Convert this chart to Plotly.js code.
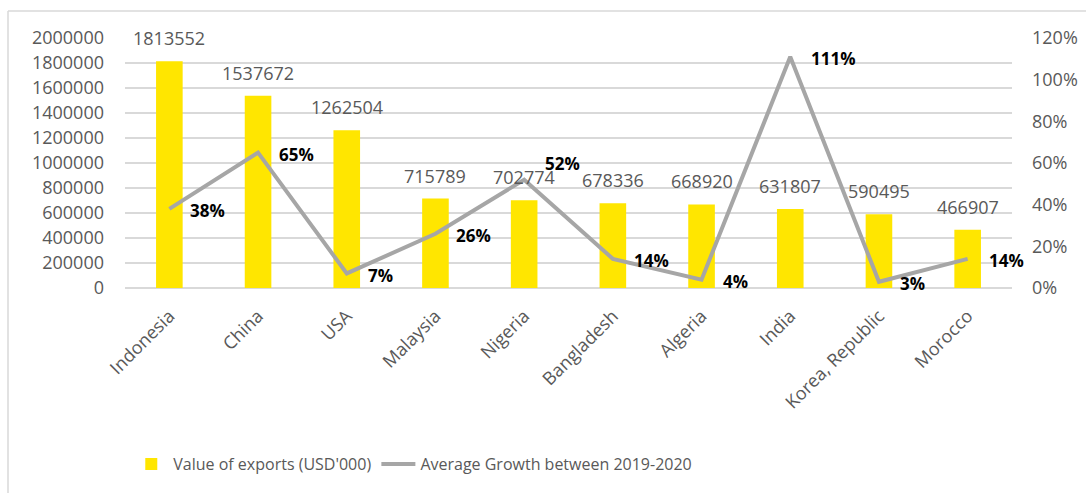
<!DOCTYPE html>
<html>
<head>
<meta charset="utf-8">
<script src="https://cdn.plot.ly/plotly-3.0.1.min.js"></script>
<style>html,body{margin:0;padding:0;background:#fff;}#chart{width:1086px;height:495px;}</style>
</head>
<body>
<div id="chart"></div>
<script>
const countries = ["Indonesia","China","USA","Malaysia","Nigeria","Bangladesh","Algeria","India","Korea, Republic","Morocco"];
const exportValues = [1813552,1537672,1262504,715789,702774,678336,668920,631807,590495,466907];
const growthPct = [38,65,7,26,52,14,4,111,3,14];
const barName = "Value of exports (USD'000)";
const lineName = "Average Growth between 2019-2020";

const FONT = "'Open Sans', sans-serif";
const GRAY = "#595959";

const traces = [
  {type:"bar", x:countries, y:exportValues, name:barName, marker:{color:"#FFE600"}, yaxis:"y", hoverinfo:"skip"},
  {type:"scatter", mode:"lines", x:countries, y:growthPct.map(v=>v/100), name:lineName, yaxis:"y2",
   line:{color:"#A6A6A6", width:4}, hoverinfo:"skip"}
];

const annotations = [];
countries.forEach((c,i)=>{
  annotations.push({x:c, y:exportValues[i], xref:"x", yref:"y", text:String(exportValues[i]),
    showarrow:false, xanchor:"center", yanchor:"middle", yshift:23,
    font:{family:FONT, size:18, color:GRAY}});
  annotations.push({x:c, y:growthPct[i]/100, xref:"x", yref:"y2", text:"<b>"+growthPct[i]+"%</b>",
    showarrow:false, xanchor:"left", yanchor:"middle", xshift:19, yshift:(c==="Nigeria"?16:-2),
    font:{family:FONT, size:17, color:"#000"}});
});

const layout = {
  width:1086, height:495,
  margin:{l:125, r:74, t:38, b:207, autoexpand:false},
  paper_bgcolor:"#fff", plot_bgcolor:"#fff",
  font:{family:FONT, color:GRAY, size:18},
  bargap:0.7,
  showlegend:true,
  legend:{orientation:"h", x:0.325, xanchor:"center", y:-0.704, yanchor:"middle",
    font:{family:FONT, size:16, color:GRAY}, itemwidth:34, tracegroupgap:0},
  xaxis:{type:"category", range:[-0.5, countries.length-0.5], tickangle:-45, showgrid:false, showline:false,
    ticks:"", ticklabelstandoff:13, automargin:false, tickfont:{family:FONT, size:18, color:GRAY}, zeroline:false},
  yaxis:{range:[0,2000000], dtick:200000, tickformat:"d", showgrid:true, gridcolor:"#D9D9D9", gridwidth:1.5,
    zeroline:true, zerolinecolor:"#D9D9D9", zerolinewidth:1.5, showline:false, ticks:"", ticklabelstandoff:20,
    automargin:false, tickfont:{family:FONT, size:18, color:GRAY}},
  yaxis2:{overlaying:"y", side:"right", range:[0,1.2], dtick:0.2, tickformat:".0%", showgrid:false,
    zeroline:false, showline:false, ticks:"", ticklabelstandoff:19, automargin:false,
    tickfont:{family:FONT, size:18, color:GRAY}},
  annotations:annotations,
  shapes:[
    {type:"line", xref:"paper", yref:"paper", x0:-0.1319, x1:1.1, y0:1.108, y1:1.108, line:{color:"#D9D9D9", width:1.5}},
    {type:"line", xref:"paper", yref:"paper", x0:-0.1319, x1:-0.1319, y0:1.108, y1:-0.82, line:{color:"#D9D9D9", width:1.5}}
  ]
};

Plotly.newPlot("chart", traces, layout, {displayModeBar:false, staticPlot:true});
</script>
</body>
</html>
